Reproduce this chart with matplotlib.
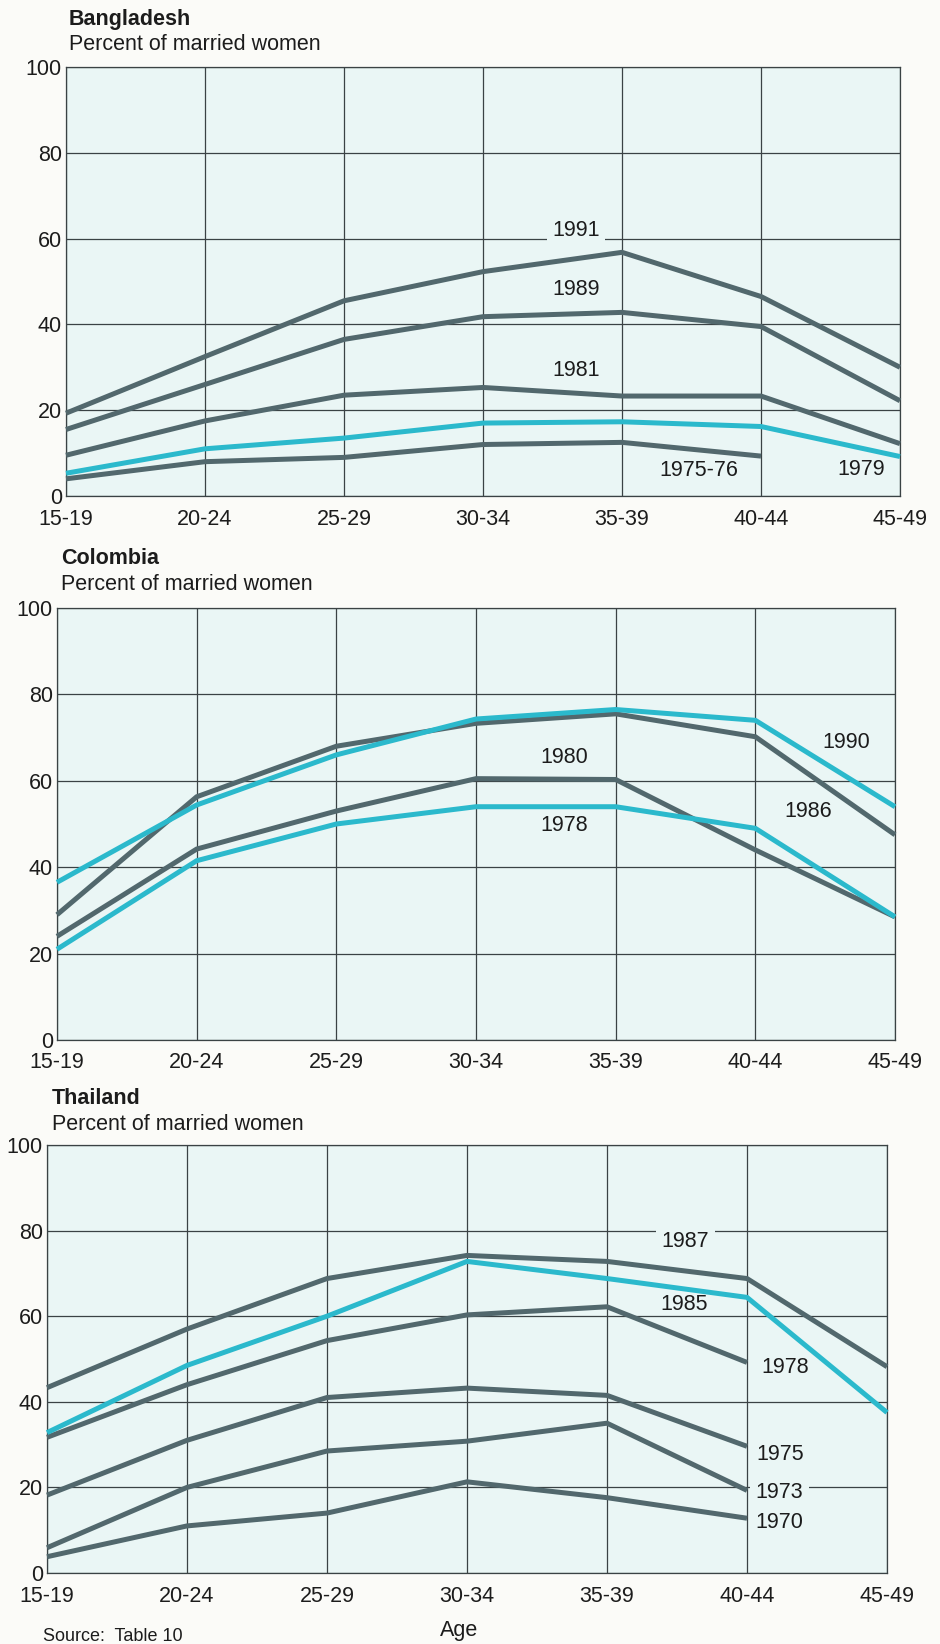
import matplotlib
matplotlib.use('Agg')
import matplotlib.pyplot as plt
import numpy as np

plt.rcParams['font.family'] = ['Liberation Sans', 'DejaVu Sans']

# age groups shared by all three panels
ages = ['15-19', '20-24', '25-29', '30-34', '35-39', '40-44', '45-49']
nan = np.nan

# Bangladesh, percent of married women using contraception
bd_1975 = [4, 8, 9, 12, 12.5, 9.3, nan]
bd_1979 = [5.3, 11, 13.5, 17, 17.3, 16.2, 9.2]
bd_1981 = [9.5, 17.5, 23.5, 25.3, 23.3, 23.3, 12.2]
bd_1989 = [15.5, 26, 36.5, 41.8, 42.8, 39.5, 22.2]
bd_1991 = [19.3, 32.5, 45.5, 52.3, 56.8, 46.5, 30]

# Colombia
co_1978 = [21, 41.5, 50, 54, 54, 49, 28.5]
co_1980 = [24, 44.2, 53, 60.5, 60.3, 44, 28.5]
co_1986 = [29, 56.3, 68, 73.3, 75.5, 70.2, 47.5]
co_1990 = [36.5, 54.4, 66, 74.3, 76.5, 74, 54]

# Thailand
th_1970 = [3.8, 11, 14, 21.3, 17.6, 12.8, nan]
th_1973 = [5.9, 20, 28.5, 30.8, 35, 19.3, nan]
th_1975 = [18.2, 31, 41, 43.2, 41.5, 29.6, nan]
th_1978 = [31.7, 44, 54.3, 60.3, 62.2, 49.2, nan]
th_1985 = [32.8, 48.5, 60, 72.8, 68.8, 64.4, 37.5]
th_1987 = [43.3, 57, 68.8, 74.2, 72.8, 68.8, 48.2]

gray = '#52686d'
cyan = '#2bb9cc'
grid_c = '#3a4244'
bg = '#eaf6f5'
txt = '#1c1c1c'

panels = [
    {
        'name': 'Bangladesh',
        'rect': [66, 67, 900, 496],
        'title_y': (19, 45), 'title_x': 69,
        'series': [(bd_1975, gray), (bd_1979, cyan), (bd_1981, gray),
                   (bd_1989, gray), (bd_1991, gray)],
        'labels': [('1991', 3.67, 61.8, True), ('1989', 3.67, 48.2, False),
                   ('1981', 3.67, 29.3, False), ('1975-76', 4.55, 5.9, False),
                   ('1979', 5.72, 6.2, False)],
    },
    {
        'name': 'Colombia',
        'rect': [57, 608, 895, 1040],
        'title_y': (559, 584), 'title_x': 61,
        'series': [(co_1980, gray), (co_1986, gray), (co_1978, cyan),
                   (co_1990, cyan)],
        'labels': [('1980', 3.63, 65.5, False), ('1978', 3.63, 49.7, False),
                   ('1990', 5.65, 68.8, False), ('1986', 5.38, 53, False)],
    },
    {
        'name': 'Thailand',
        'rect': [47, 1145, 887, 1573],
        'title_y': (1098, 1124), 'title_x': 52,
        'series': [(th_1970, gray), (th_1973, gray), (th_1975, gray),
                   (th_1978, gray), (th_1987, gray), (th_1985, cyan)],
        'labels': [('1987', 4.56, 77.5, True), ('1985', 4.55, 62.7, False),
                   ('1978', 5.27, 48, False), ('1975', 5.24, 27.8, False),
                   ('1973', 5.23, 18.9, True), ('1970', 5.23, 11.8, False)],
    },
]

W, H = 940, 1644
fig = plt.figure(figsize=(W / 100, H / 100), dpi=100)
fig.patch.set_facecolor('#fbfbf8')

fs = 15.5
x = np.arange(len(ages))

for p in panels:
    l, t, r, b = p['rect']
    ax = fig.add_axes([l / W, 1 - b / H, (r - l) / W, (b - t) / H])
    ax.set_facecolor(bg)
    ax.set_xlim(0, 6)
    ax.set_ylim(0, 100)
    ax.set_xticks(x)
    ax.set_xticklabels(ages)
    ax.set_yticks(range(0, 101, 20))
    ax.tick_params(length=0, labelsize=fs, colors=txt)
    ax.tick_params(axis='x', pad=9)
    ax.tick_params(axis='y', pad=3)
    ax.grid(True, color=grid_c, linewidth=0.9)
    ax.set_axisbelow(True)
    for s in ax.spines.values():
        s.set_color(grid_c)
        s.set_linewidth(0.9)

    for vals, c in p['series']:
        ax.plot(x, vals, color=c, linewidth=3.6, solid_capstyle='butt',
                solid_joinstyle='miter', clip_on=False, zorder=3)

    for text, lx, ly, boxed in p['labels']:
        kw = {}
        if boxed:
            kw['bbox'] = dict(facecolor=bg, edgecolor='none', pad=4)
        ax.text(lx, ly, text, fontsize=fs, color=txt, ha='center',
                va='center', zorder=4, **kw)

    y1, y2 = p['title_y']
    fig.text(p['title_x'] / W, 1 - y1 / H, p['name'], fontsize=fs,
             fontweight='bold', color=txt, va='center', ha='left')
    fig.text(p['title_x'] / W, 1 - y2 / H, 'Percent of married women',
             fontsize=fs, color=txt, va='center', ha='left')

fig.text(459 / W, 1 - 1630 / H, 'Age', fontsize=fs, color=txt,
         ha='center', va='center')
fig.text(43 / W, 1 - 1636 / H, 'Source:  Table 10', fontsize=13,
         color=txt, ha='left', va='center')

plt.savefig('out.png', dpi=100, facecolor=fig.get_facecolor())
